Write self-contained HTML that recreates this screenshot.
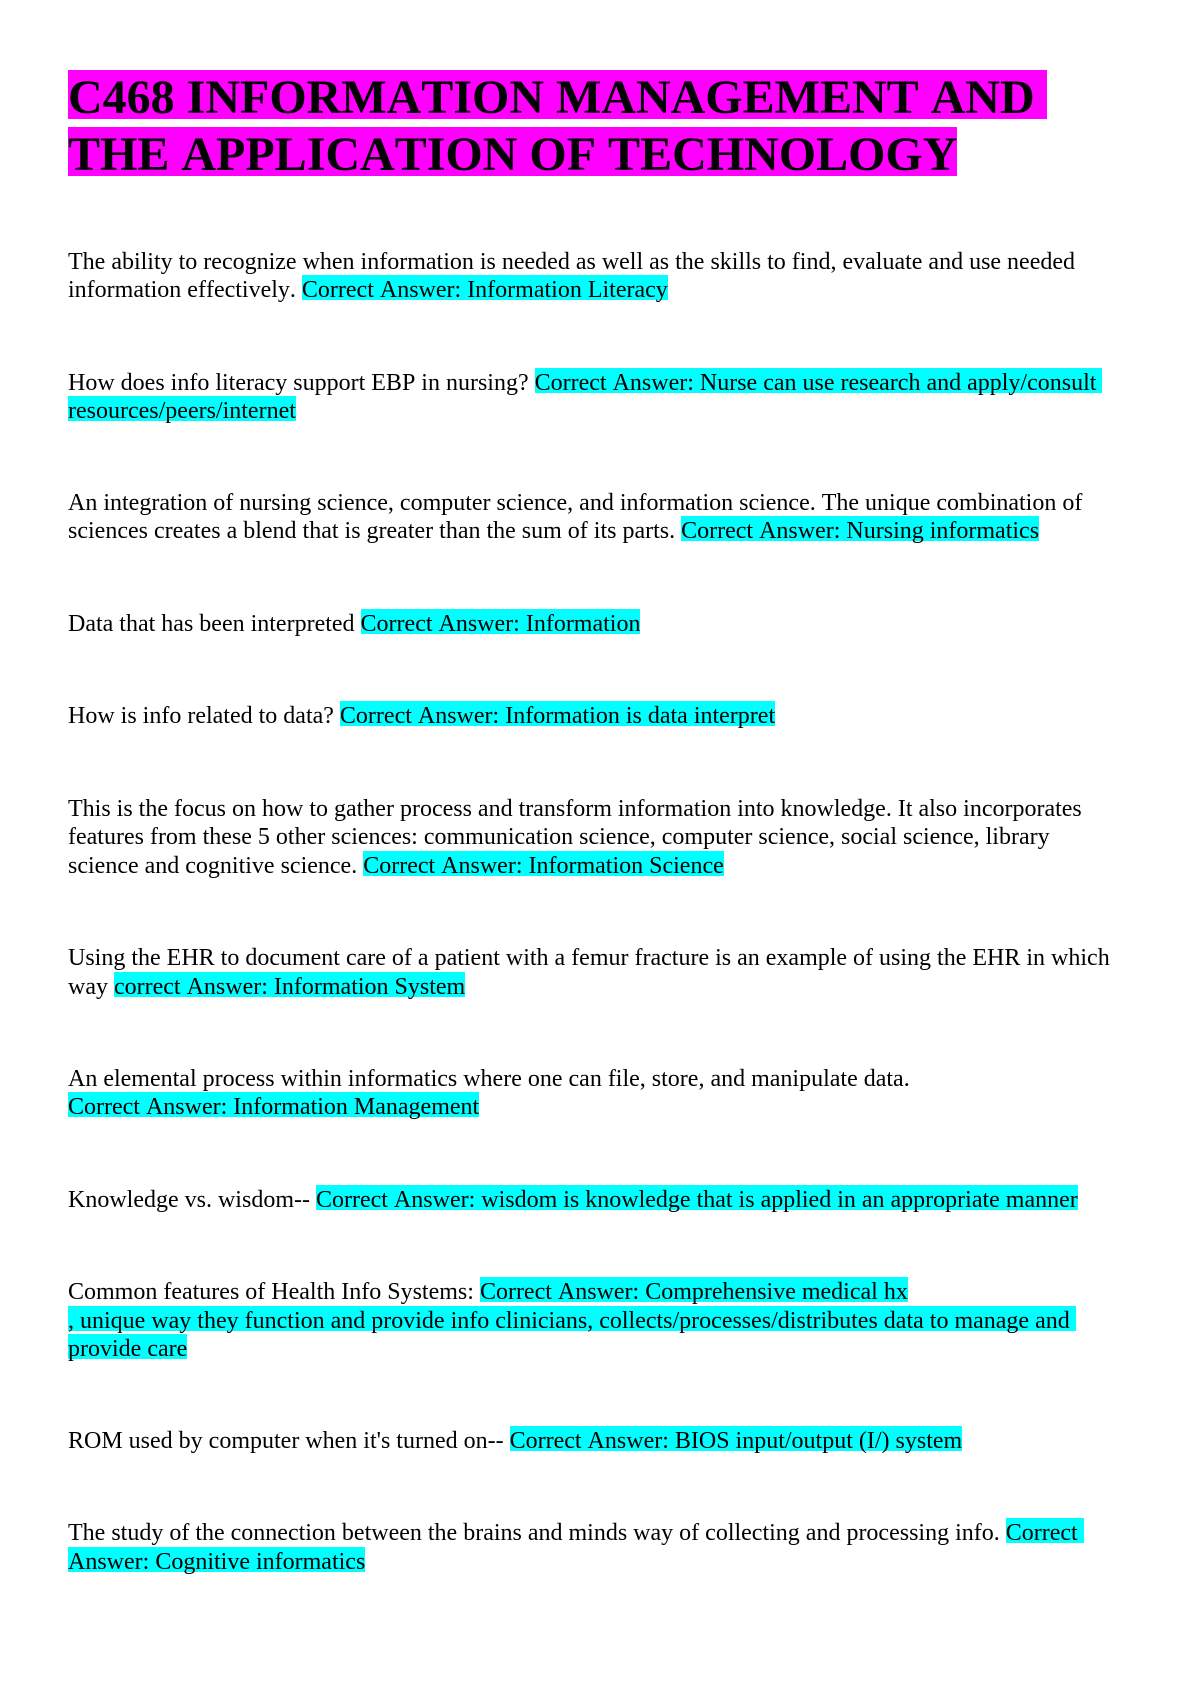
<!DOCTYPE html>
<html><head><meta charset="utf-8">
<style>
html{background:#fff}
html,body{margin:0;padding:0;width:1191px;height:1684px;overflow:hidden}
body{position:relative;font-family:"Liberation Serif",serif;color:#000;font-kerning:none;font-variant-ligatures:none;text-rendering:optimizeSpeed}
.l{position:absolute;left:68px;white-space:pre;font-size:24px;line-height:26px;height:26px}
.t{position:absolute;left:68px;white-space:pre;font-size:48px;font-weight:bold;line-height:53px;height:53px}
.h,.m{position:relative}
.h::before,.m::before{content:"";position:absolute;left:0;right:0;z-index:-1}
.h::before{top:-1.7px;height:24.4px;background:#0ff}
.m::before{top:-0.7px;height:48.2px;background:#f0f}
</style></head><body>
<div class="t" style="top:71px"><span class="m">C468 INFORMATION MANAGEMENT AND </span></div>
<div class="t" style="top:128px"><span class="m">THE APPLICATION OF TECHNOLOGY</span></div>
<div class="l" style="top:249px">The ability to recognize when information is needed as well as the skills to find, evaluate and use needed</div>
<div class="l" style="top:277px">information effectively. <span class="h">Correct Answer: Information Literacy</span></div>
<div class="l" style="top:370px">How does info literacy support EBP in nursing? <span class="h">Correct Answer: Nurse can use research and apply/consult </span></div>
<div class="l" style="top:398px"><span class="h">resources/peers/internet</span></div>
<div class="l" style="top:490px">An integration of nursing science, computer science, and information science. The unique combination of</div>
<div class="l" style="top:518px">sciences creates a blend that is greater than the sum of its parts. <span class="h">Correct Answer: Nursing informatics</span></div>
<div class="l" style="top:611px">Data that has been interpreted <span class="h">Correct Answer: Information</span></div>
<div class="l" style="top:703px">How is info related to data? <span class="h">Correct Answer: Information is data interpret</span></div>
<div class="l" style="top:796px">This is the focus on how to gather process and transform information into knowledge. It also incorporates</div>
<div class="l" style="top:824px">features from these 5 other sciences: communication science, computer science, social science, library</div>
<div class="l" style="top:853px">science and cognitive science. <span class="h">Correct Answer: Information Science</span></div>
<div class="l" style="top:945px">Using the EHR to document care of a patient with a femur fracture is an example of using the EHR in which</div>
<div class="l" style="top:974px">way <span class="h">correct Answer: Information System</span></div>
<div class="l" style="top:1066px">An elemental process within informatics where one can file, store, and manipulate data.</div>
<div class="l" style="top:1094px"><span class="h">Correct Answer: Information Management</span></div>
<div class="l" style="top:1187px">Knowledge vs. wisdom-- <span class="h">Correct Answer: wisdom is knowledge that is applied in an appropriate manner</span></div>
<div class="l" style="top:1279px">Common features of Health Info Systems: <span class="h">Correct Answer: Comprehensive medical hx</span></div>
<div class="l" style="top:1308px"><span class="h">, unique way they function and provide info clinicians, collects/processes/distributes data to manage and </span></div>
<div class="l" style="top:1336px"><span class="h">provide care</span></div>
<div class="l" style="top:1428px">ROM used by computer when it's turned on-- <span class="h">Correct Answer: BIOS input/output (I/) system</span></div>
<div class="l" style="top:1520px">The study of the connection between the brains and minds way of collecting and processing info. <span class="h">Correct </span></div>
<div class="l" style="top:1549px"><span class="h">Answer: Cognitive informatics</span></div>
</body></html>
